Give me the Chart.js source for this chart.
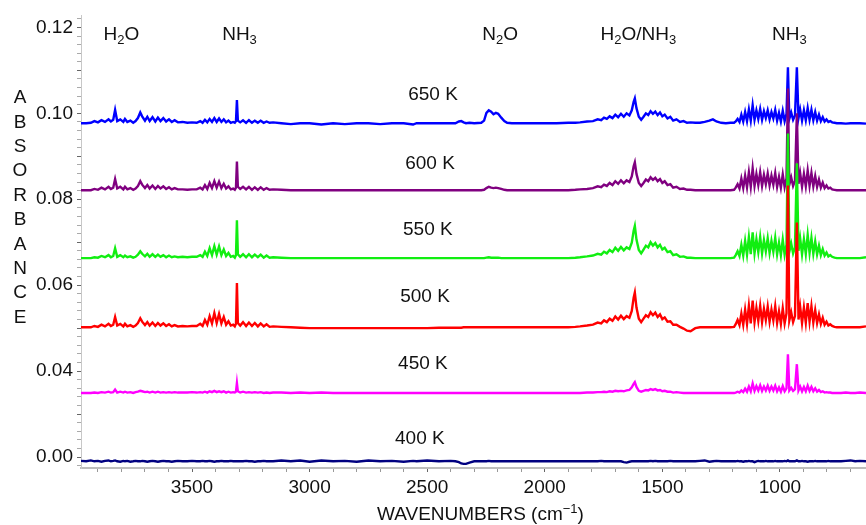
<!DOCTYPE html>
<html>
<head>
<meta charset="utf-8">
<script src="https://cdn.jsdelivr.net/npm/chart.js@4.4.1/dist/chart.umd.min.js"></script>
<style>
  html, body { margin: 0; padding: 0; background: #fff; }
  canvas { display: block; }
</style>
</head>
<body>
<canvas id="spectra" width="866" height="525"></canvas>
<script>
// shared wavenumber grid (cm-1)
const wavenumbers = [
  3972, 3950, 3930, 3915, 3900, 3885, 3870, 3855, 3845, 3835, 3827, 3818, 3805, 3792, 3785, 3775, 3762, 3750, 3740, 3730, 3720, 3712, 3700, 3690, 3680, 3668, 3656, 3645, 3634, 3622, 3610, 3598, 3586, 3574, 3560, 3540, 3520, 3500, 3480,
  3465, 3455, 3445, 3435, 3425, 3415, 3405, 3395, 3385, 3375, 3365, 3355, 3345, 3335, 3325, 3318,
  3313, 3309, 3305,
  3295, 3283, 3270, 3258, 3245, 3233, 3220, 3208, 3195, 3183, 3170, 3155,
  3120, 3080, 3040, 3000, 2950, 2900, 2850, 2800, 2750, 2700, 2650, 2600, 2560, 2545, 2500, 2450, 2400, 2380,
  2365, 2355, 2345, 2335, 2320, 2300,
  2270, 2258, 2248, 2238, 2228, 2218, 2208, 2198, 2185, 2172, 2160, 2140,
  2100, 2050, 2000, 1950, 1900, 1870,
  1850, 1820, 1795, 1775, 1760, 1748, 1736, 1724, 1712, 1700, 1688, 1676, 1664, 1652, 1640, 1630, 1622, 1617, 1610, 1600, 1590, 1580, 1570, 1560, 1550, 1540, 1530, 1520, 1510, 1500, 1490, 1478, 1466, 1454, 1440, 1425, 1410, 1395, 1380,
  1360, 1340, 1320, 1300, 1285, 1270, 1250, 1230, 1210,
  1195, 1188, 1180, 1172, 1164, 1156, 1148, 1140, 1132, 1124, 1116, 1108, 1100, 1092, 1084, 1076, 1068, 1060, 1052, 1044, 1036, 1028, 1020, 1012, 1004, 996, 988, 980, 972, 966, 960, 952, 944, 936, 928, 921, 914, 906, 898, 890, 882, 874, 866, 858, 850, 842, 834, 826, 818, 810, 802, 794, 786, 778, 768, 758,
  740, 720, 700, 680, 660, 634
];

const temperatures = ["650 K", "600 K", "550 K", "500 K", "450 K", "400 K"];
const colors = ["#0000ff", "#800080", "#11ee11", "#ff0000", "#ff00ff", "#000080"];

// each spectrum is offset vertically; baselines in mAbs (plot scale)
const offsets = [97.7, 82.1, 66.3, 50.2, 34.9, 19.0];

// absorbance above each baseline, mAbs
const abs650 = [
  0, 0, 0.1, 0.5, 0.2, 0.7, 0.3, 0.9, 0.4, 0.8, 3.1, 0.5, 0.9, 0.3, 1.0, 0.3, 0.6, 0.1, 0.5, 1.2, 2.5, 1.6, 0.6, 1.5, 0.5, 1.4, 0.4, 1.3, 0.5, 1.2, 0.4, 0.9, 0.3, 0.7, 0.2, 0.3, 0.1, 0.2, 0.1,
  0.5, 0.1, 0.8, 0.2, 1.0, 0.3, 1.2, 0.3, 1.1, 0.3, 0.9, 0.2, 0.6, 0.1, 0.3, 0.1,
  0.5, 5.4, 0.6,
  0.2, 0.7, 0.1, 0.7, 0.1, 0.6, 0.1, 0.6, 0.1, 0.4, 0.1, 0.2,
  0, -0.2, 0, 0, -0.3, 0, -0.2, 0, 0, -0.2, 0, 0, -0.3, 0, 0, 0, 0, 0,
  0.4, 0.5, 0.2, 0, 0.1, 0,
  0.1, 0.6, 2.4, 3.0, 2.7, 2.1, 2.4, 2.2, 1.3, 0.5, 0.1, 0,
  0, 0, 0, 0, 0.1, 0.1,
  0.2, 0.4, 0.5, 0.9, 0.7, 1.3, 1.0, 1.6, 1.2, 2.0, 1.4, 2.2, 1.5, 2.3, 1.8, 3.0, 5.0, 5.8, 3.5, 1.5, 0.8, 1.5, 2.3, 1.9, 2.8, 2.2, 2.7, 1.9, 2.5, 1.6, 2.0, 1.1, 1.5, 0.6, 0.9, 0.3, 0.5, 0.1, 0.2,
  0.1, 0.1, 0.3, 0.6, 0.9, 0.4, 0.1, 0, 0.1,
  0.1, 0.4, 1.0, 0.3, 2.0, 0.4, 2.6, 0.5, 3.2, 0.6, 4.2, 0.8, 3.0, 1.0, 3.3, 0.8, 2.8, 1.2, 3.0, 0.9, 2.6, 1.1, 3.1, 0.6, 2.4, 0.4, 2.9, 0.5, 2.2, 13.0, 1.0, 2.5, 0.8, 1.8, 13.0, 1.2, 3.2, 0.6, 3.0, 0.7, 3.5, 0.8, 3.1, 0.7, 2.6, 0.6, 2.0, 0.5, 1.4, 0.4, 0.9, 0.3, 0.5, 0.2, 0.1, 0,
  0, -0.1, 0, 0, 0, -0.1
];
const abs600 = [
  0, 0, 0, 0.3, 0.1, 0.6, 0.2, 0.8, 0.3, 0.6, 2.6, 0.4, 0.8, 0.2, 0.8, 0.2, 0.5, 0.1, 0.4, 1.0, 2.1, 1.3, 0.5, 1.2, 0.4, 1.1, 0.3, 1.0, 0.4, 0.9, 0.3, 0.7, 0.2, 0.5, 0.2, 0.2, 0.1, 0.2, 0.2,
  0.6, 0.2, 1.2, 0.3, 1.7, 0.5, 2.1, 0.6, 2.0, 0.5, 1.5, 0.4, 0.9, 0.2, 0.4, 0.1,
  0.6, 6.7, 0.8,
  0.3, 0.8, 0.2, 0.8, 0.1, 0.7, 0.1, 0.7, 0.1, 0.5, 0.1, 0.2,
  0.1, 0, 0, 0, 0, 0, 0, 0, 0, 0, 0, 0, 0, 0, 0, 0, 0, 0,
  0, 0, 0, 0, 0, 0,
  0, 0.1, 0.5, 0.8, 0.6, 0.5, 0.6, 0.5, 0.3, 0.1, 0, 0,
  0, 0, 0, 0, 0, 0.1,
  0.2, 0.3, 0.5, 0.9, 0.7, 1.3, 1.0, 1.7, 1.2, 2.1, 1.5, 2.3, 1.6, 2.3, 1.9, 3.2, 5.6, 6.5, 3.8, 1.7, 1.0, 1.7, 2.5, 2.1, 3.0, 2.4, 2.9, 2.1, 2.6, 1.7, 2.1, 1.2, 1.4, 0.6, 0.8, 0.3, 0.4, 0.1, 0.1,
  0, 0, 0, 0, 0, 0, 0, 0, 0,
  0.1, 0.6, 1.4, 0.4, 2.7, 0.5, 3.4, 0.7, 4.2, 0.8, 5.1, 1.0, 3.8, 1.2, 4.2, 1.0, 3.6, 1.4, 3.9, 1.1, 3.4, 1.3, 4.0, 0.8, 3.1, 0.6, 3.7, 0.7, 2.8, 23.7, 1.3, 3.0, 1.0, 2.2, 17.9, 1.5, 4.0, 0.8, 3.8, 0.9, 4.6, 1.0, 4.0, 0.9, 3.3, 0.8, 2.5, 0.6, 1.8, 0.5, 1.1, 0.4, 0.6, 0.2, 0.1, 0,
  0, 0, 0, 0, 0, 0
];
const abs550 = [
  0, 0, 0, 0.2, 0.1, 0.5, 0.2, 0.7, 0.2, 0.5, 2.3, 0.3, 0.7, 0.2, 0.6, 0.2, 0.4, 0.1, 0.3, 0.8, 1.6, 1.0, 0.4, 1.0, 0.3, 0.9, 0.3, 0.8, 0.3, 0.7, 0.2, 0.6, 0.2, 0.4, 0.2, 0.3, 0.2, 0.3, 0.3,
  0.7, 0.3, 1.5, 0.5, 2.3, 0.7, 2.8, 0.8, 2.7, 0.7, 2.0, 0.5, 1.2, 0.3, 0.5, 0.1,
  0.7, 8.8, 0.9,
  0.3, 0.9, 0.2, 0.9, 0.2, 0.8, 0.2, 0.8, 0.1, 0.6, 0.1, 0.2,
  0.1, 0, 0, 0, 0, 0, 0, 0, 0, 0, 0, 0, 0, 0, 0, 0, 0, 0,
  0, 0, 0, 0, 0, 0,
  0, 0, 0.1, 0.2, 0.1, 0.1, 0.1, 0.1, 0, 0, 0, 0,
  0, 0, 0, 0, 0, 0.1,
  0.2, 0.4, 0.6, 1.0, 0.8, 1.5, 1.1, 1.9, 1.4, 2.4, 1.7, 2.6, 1.8, 2.5, 2.1, 3.6, 6.4, 7.5, 4.3, 1.9, 1.1, 2.0, 2.9, 2.5, 3.7, 2.9, 3.5, 2.5, 3.1, 2.0, 2.4, 1.4, 1.6, 0.7, 0.9, 0.3, 0.4, 0.1, 0.1,
  0, 0, 0, 0, 0, 0, 0, 0, 0,
  0.1, 0.7, 1.6, 0.5, 3.1, 0.6, 4.0, 0.8, 4.9, 0.9, 6.0, 1.1, 4.4, 1.4, 4.9, 1.1, 4.2, 1.6, 4.6, 1.2, 4.0, 1.5, 4.7, 0.9, 3.6, 0.7, 4.3, 0.8, 3.2, 29.0, 1.5, 3.4, 1.1, 2.5, 22.1, 1.7, 4.6, 0.9, 4.4, 1.0, 5.4, 1.2, 4.7, 1.0, 3.9, 0.9, 2.9, 0.7, 2.1, 0.6, 1.3, 0.4, 0.7, 0.3, 0.1, 0,
  0, 0, 0, 0, 0, 0.2
];
const abs500 = [
  0, 0, 0, 0.3, 0.1, 0.6, 0.2, 0.8, 0.3, 0.6, 2.4, 0.4, 0.8, 0.2, 0.8, 0.2, 0.5, 0.1, 0.4, 1.0, 2.1, 1.3, 0.5, 1.2, 0.4, 1.1, 0.3, 1.0, 0.4, 0.9, 0.3, 0.7, 0.2, 0.5, 0.2, 0.3, 0.2, 0.3, 0.3,
  0.8, 0.3, 1.7, 0.6, 2.6, 0.9, 3.3, 1.0, 3.1, 0.9, 2.4, 0.6, 1.4, 0.4, 0.6, 0.2,
  0.8, 10.3, 1.0,
  0.4, 1.2, 0.3, 1.1, 0.3, 1.0, 0.2, 0.9, 0.2, 0.7, 0.1, 0.2,
  0.1, 0, -0.1, -0.2, -0.2, -0.2, -0.2, -0.2, -0.2, -0.2, -0.2, -0.2, -0.2, -0.2, -0.2, -0.1, -0.1, -0.1,
  -0.1, -0.1, 0, 0, 0, 0,
  0, 0, 0, 0, 0, 0, 0, 0, 0, 0, 0, 0,
  0, 0, 0, 0, 0, 0.1,
  0.2, 0.4, 0.6, 1.1, 0.9, 1.6, 1.2, 2.0, 1.5, 2.5, 1.8, 2.7, 1.9, 2.6, 2.2, 3.8, 6.9, 8.1, 4.6, 2.0, 1.2, 2.0, 2.8, 2.4, 3.5, 2.8, 3.4, 2.4, 3.0, 1.9, 2.3, 1.3, 1.4, 0.6, 0.6, 0.1, -0.3, -0.8, -0.9,
  -0.2, 0, 0, 0, 0, 0, 0, 0, 0,
  0.1, 0.7, 1.7, 0.5, 3.2, 0.6, 4.1, 0.8, 5.0, 0.9, 6.2, 1.2, 4.5, 1.5, 5.0, 1.2, 4.3, 1.7, 4.8, 1.3, 4.1, 1.6, 4.9, 1.0, 3.7, 0.8, 4.4, 0.9, 3.3, 33.0, 1.6, 3.5, 1.2, 2.6, 24.4, 1.8, 4.8, 1.0, 4.6, 1.1, 5.6, 1.3, 4.9, 1.1, 4.0, 1.0, 3.0, 0.8, 2.2, 0.6, 1.3, 0.4, 0.7, 0.3, 0.1, 0,
  0, 0, 0, 0, 0, 0.2
];
const abs450 = [
  0, 0, 0, 0.1, 0, 0.2, 0.1, 0.3, 0.1, 0.2, 0.8, 0.1, 0.3, 0.1, 0.3, 0.1, 0.2, 0, 0.2, 0.3, 0.5, 0.4, 0.2, 0.3, 0.1, 0.3, 0.1, 0.3, 0.1, 0.2, 0.1, 0.2, 0.1, 0.2, 0.1, 0.1, 0.1, 0.2, 0.1,
  0.2, 0.1, 0.3, 0.1, 0.4, 0.2, 0.5, 0.2, 0.4, 0.2, 0.4, 0.1, 0.3, 0.1, 0.2, 0.1,
  0.3, 2.3, 0.4,
  0.1, 0.3, 0.1, 0.2, 0.1, 0.2, 0.1, 0.2, 0, 0.1, 0, 0.1,
  0.1, 0, 0.1, 0, 0.1, 0, 0, 0, 0, 0, 0, 0, 0, 0, 0, 0, 0, 0,
  0, 0, 0, 0, 0, 0,
  0, 0, 0, 0, 0, 0, 0, 0, 0, 0, 0, 0,
  0, 0, 0, 0, 0, 0,
  0, 0.1, 0.1, 0.2, 0.2, 0.3, 0.2, 0.4, 0.3, 0.5, 0.4, 0.5, 0.4, 0.6, 0.7, 1.3, 2.1, 2.5, 1.4, 0.5, 0.3, 0.5, 0.7, 0.6, 0.9, 0.7, 0.9, 0.6, 0.7, 0.4, 0.5, 0.3, 0.3, 0.1, 0.2, 0.1, 0, 0, 0,
  0, 0, 0, 0, 0, 0, 0, 0, 0,
  0, 0.1, 0.3, 0.1, 0.6, 0.2, 1.0, 0.3, 1.5, 0.4, 2.2, 0.5, 1.6, 0.6, 1.8, 0.5, 1.5, 0.6, 1.7, 0.5, 1.5, 0.6, 1.7, 0.4, 1.3, 0.3, 1.6, 0.4, 1.1, 9.0, 0.6, 1.2, 0.5, 0.9, 6.7, 0.6, 1.5, 0.4, 1.4, 0.4, 1.7, 0.5, 1.4, 0.4, 1.1, 0.3, 0.7, 0.2, 0.4, 0.1, 0.2, 0.1, 0.1, 0, 0, 0,
  0, 0.1, 0, 0, 0.1, 0
];
const abs400 = [
  0.1, 0, 0.2, 0, 0.1, -0.1, 0.1, 0.2, 0, 0.1, 0.2, 0, -0.1, 0.1, 0, 0.1, -0.1, 0, 0.1, 0, 0, 0.1, 0, -0.1, 0, 0.1, 0, -0.1, 0, 0.1, 0, 0, -0.1, 0, 0.1, 0, 0, 0.1, 0,
  0, 0.1, 0, 0, 0.1, 0, -0.1, 0, 0, 0.1, 0, 0, 0, 0.1, 0, 0,
  0, 0, 0,
  0, 0, 0.1, 0, 0, -0.1, 0, 0, 0.1, 0, 0, 0,
  0.2, 0, 0.2, -0.1, 0.2, 0, 0.1, -0.1, 0.2, 0, 0.1, -0.1, 0.1, 0, 0.2, 0, 0.1, 0,
  -0.2, -0.5, -0.6, -0.6, -0.3, 0,
  0, 0, 0, 0.1, 0, 0, 0, 0, 0, 0, 0, 0,
  0, 0, 0, 0, 0, 0,
  0, 0, 0, 0, 0.1, 0, 0, 0, 0, 0, 0, 0, -0.2, -0.3, -0.1, 0, 0, 0, 0, 0, 0, 0, 0, 0, 0.1, 0, 0.1, 0, 0, 0, 0, 0, 0.1, 0, 0, 0, 0, 0, 0,
  0, 0.1, 0.2, -0.1, 0, 0.1, 0, 0, 0,
  0, 0, 0.1, 0, 0, -0.1, 0, 0, 0.1, 0, 0, -0.2, 0, 0.1, 0, 0, 0, 0.1, 0, 0, 0, 0, 0.1, 0, 0, 0, 0, 0.1, 0, 0.2, 0, 0, 0, 0, 0.2, 0, 0, 0.1, 0, 0, -0.1, 0, 0, 0, 0.1, 0, 0, 0, 0, 0, 0, 0.1, 0, 0, 0, 0,
  0, 0.1, 0.2, 0, 0.1, 0
];
const spectra = [abs650, abs600, abs550, abs500, abs450, abs400];

// axis ticks (y in mAbs on the plot scale; the lowest labelled tick reads 0.00)
const yTickValues = [20, 40, 60, 80, 100, 120];
const yTickLabels = ["0.00", "0.04", "0.06", "0.08", "0.10", "0.12"];
const xTickLabels = [3500, 3000, 2500, 2000, 1500, 1000];

// annotation anchors: [wavenumber, mAbs]
const bandLabels = [
  { parts: [["H", 0], ["2", 1], ["O", 0]], at: [3800, 118.7] },
  { parts: [["NH", 0], ["3", 1]], at: [3298, 118.7] },
  { parts: [["N", 0], ["2", 1], ["O", 0]], at: [2190, 118.7] },
  { parts: [["H", 0], ["2", 1], ["O/NH", 0], ["3", 1]], at: [1602, 118.7] },
  { parts: [["NH", 0], ["3", 1]], at: [960, 118.7] },
];
const tempLabelAt = [[2475, 104.6], [2488, 88.6], [2497, 73.3], [2509, 57.7], [2518, 42.1], [2531, 24.6]];

const FONT = '"Liberation Sans", Arial, Helvetica, sans-serif';

function drawRich(ctx, parts, x0, cy, size, centered) {
    const small = 13;
    let total = 0;
    const pieces = parts.map(([t, s]) => {
        ctx.font = (s ? small : size) + "px " + FONT;
        const w = ctx.measureText(t).width;
        total += w;
        return { t, s, w };
    });
    let x = centered ? x0 - total / 2 : x0;
    const base = cy + size * 0.358;
    ctx.textAlign = "left";
    ctx.textBaseline = "alphabetic";
    pieces.forEach(p => {
        ctx.font = (p.s ? small : size) + "px " + FONT;
        const dy = p.s === 1 ? 4 : p.s === -1 ? -7 : 0;
        ctx.fillText(p.t, x, base + dy);
        x += p.w;
    });
}

const textPlugin = {
    id: "spectraText",
    afterDraw(chart) {
        const ctx = chart.ctx;
        const xs = chart.scales.x, ys = chart.scales.y;
        ctx.save();
        ctx.fillStyle = "#111";

        bandLabels.forEach(b => {
            drawRich(ctx, b.parts, xs.getPixelForValue(b.at[0]), ys.getPixelForValue(b.at[1]), 19, true);
        });

        temperatures.forEach((t, i) => {
            const [w, v] = tempLabelAt[i];
            drawRich(ctx, [[t, 0]], xs.getPixelForValue(w), ys.getPixelForValue(v), 19, true);
        });

        // stacked y title
        const letters = "ABSORBANCE".split("");
        ctx.font = "19px " + FONT;
        ctx.textAlign = "center";
        ctx.textBaseline = "middle";
        letters.forEach((l, i) => ctx.fillText(l, 20, 98 + i * 24.4));

        // x title
        drawRich(ctx, [["WAVENUMBERS (cm", 0], ["\u22121", -1], [")", 0]], 377, 513, 19, false);
        ctx.restore();
    }
};

const datasets = temperatures.map((t, i) => ({
    label: t,
    data: wavenumbers.map((w, j) => ({ x: w, y: offsets[i] + spectra[i][j] })),
    borderColor: colors[i],
    borderWidth: 2.4,
    pointRadius: 0,
    tension: 0,
    fill: false,
})).reverse(); // 400 K first so the cooler spectra are drawn on top

const xMinor = [];
for (let w = 700; w <= 3900; w += 100) xMinor.push(w);
const yMinor = [];
for (let v = 18; v <= 122; v += 2) yMinor.push(v);

new Chart(document.getElementById("spectra"), {
    type: "line",
    data: { datasets },
    options: {
        responsive: false,
        animation: false,
        parsing: false,
        layout: { padding: { top: 15, left: 0, right: 0, bottom: 0 } },
        plugins: { legend: { display: false }, tooltip: { enabled: false } },
        scales: {
            x: {
                type: "linear",
                reverse: true,
                min: 634,
                max: 3972,
                afterFit: s => { s.height = 57; },
                afterBuildTicks: s => { s.ticks = xMinor.map(v => ({ value: v })); },
                ticks: {
                    autoSkip: false,
                    maxRotation: 0,
                    padding: 4,
                    color: "#111",
                    font: { family: FONT, size: 19 },
                    callback: v => (xTickLabels.includes(v) ? String(v) : ""),
                },
                grid: {
                    drawOnChartArea: false,
                    tickLength: 4,
                    tickColor: c => (c.tick && c.tick.value % 500 === 0 ? "#666" : "#999"),
                },
                border: { color: "#bdbdbd", width: 2 },
            },
            y: {
                type: "linear",
                min: 17.44,
                max: 122.8,
                afterFit: s => { s.width = 81; },
                afterBuildTicks: s => { s.ticks = yMinor.map(v => ({ value: v })); },
                ticks: {
                    autoSkip: false,
                    padding: 4,
                    color: "#111",
                    font: { family: FONT, size: 19 },
                    callback: v => {
                        const k = yTickValues.indexOf(v);
                        return k >= 0 ? yTickLabels[k] : "";
                    },
                },
                grid: {
                    drawOnChartArea: false,
                    tickLength: 4,
                    tickColor: c => (c.tick && c.tick.value % 10 === 0 ? "#666" : "#aaa"),
                },
                border: { color: "#c8c8c8", width: 1 },
            },
        },
    },
    plugins: [textPlugin],
});
</script>
</body>
</html>
